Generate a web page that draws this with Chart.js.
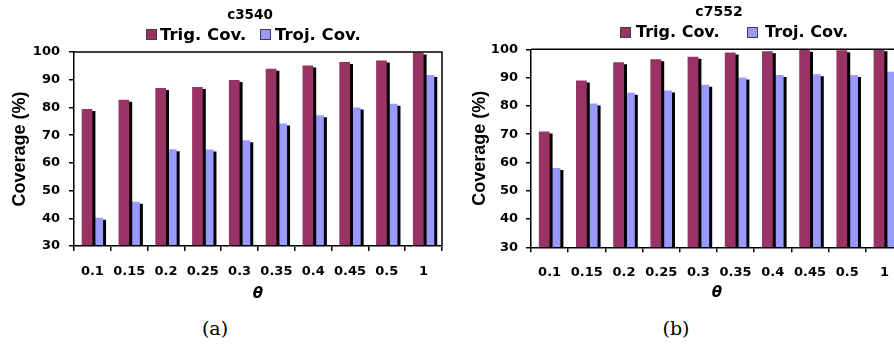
<!DOCTYPE html>
<html>
<head>
<meta charset="utf-8">
<title>Coverage vs theta</title>
<script src="https://cdn.jsdelivr.net/npm/chart.js@4.4.0/dist/chart.umd.min.js"></script>
<style>
	body { margin: 0; width: 894px; height: 344px; overflow: hidden; background: #fff; position: relative; font-family: "DejaVu Sans", sans-serif; }
	canvas { position: absolute; top: 0; }
	.t { position: absolute; font-weight: bold; line-height: 1; white-space: nowrap; color: #000; }
	.ttl { text-align: center; width: 100px; }
	.box { position: absolute; width: 9px; height: 9px; border: 1px solid #404040; }
	.cap { position: absolute; width: 100px; text-align: center; font-family: "DejaVu Serif", serif; font-size: 19px; line-height: 1; color: #000; }
</style>
</head>
<body>
<canvas id="chartA" width="447" height="303" style="left:0"></canvas>
<canvas id="chartB" width="470" height="302" style="left:447px"></canvas>

<!-- titles and legends -->
<div class="t ttl" style="left:200px;top:8px;font-size:13.5px">c3540</div>
<div class="box" style="left:146px;top:29px;background:#993366"></div>
<div class="t" style="left:160px;top:27px;font-size:16.5px">Trig. Cov.</div>
<div class="box" style="left:260px;top:29px;background:#9999ff"></div>
<div class="t" style="left:275px;top:27px;font-size:16.5px">Troj. Cov.</div>

<div class="t ttl" style="left:669px;top:4px;font-size:14px">c7552</div>
<div class="box" style="left:620px;top:27px;background:#993366"></div>
<div class="t" style="left:636px;top:24px;font-size:16px">Trig. Cov.</div>
<div class="box" style="left:747px;top:27px;background:#9999ff"></div>
<div class="t" style="left:765px;top:24px;font-size:16px">Troj. Cov.</div>

<div class="cap" style="left:165px;top:319px">(a)</div>
<div class="cap" style="left:626px;top:319px">(b)</div>

<script>
// threshold values on the x axis
var thetaLabels = ['0.1', '0.15', '0.2', '0.25', '0.3', '0.35', '0.4', '0.45', '0.5', '1'];

// c3540 coverage (%)
var trigC3540 = [79.4, 82.8, 87.0, 87.4, 89.9, 94.0, 95.1, 96.4, 96.9, 99.8];
var trojC3540 = [40.2, 46.0, 64.9, 64.8, 68.2, 74.2, 77.2, 80.0, 81.3, 91.7];

// c7552 coverage (%)
var trigC7552 = [70.9, 89.0, 95.4, 96.5, 97.4, 98.9, 99.3, 99.8, 99.7, 100];
var trojC7552 = [58.0, 80.8, 84.6, 85.4, 87.5, 90.0, 90.9, 91.2, 90.9, 92.1];

// y axis range
var yMin = 30;
var yMax = 100;
var yStep = 10;

var tickFont = { family: 'DejaVu Sans', weight: 'bold', size: 13 };

/**
 * Excel style drop shadow on the bars
 */
var barShadow = {
	id: 'barShadow',
	beforeDatasetsDraw: function(chart) {
		var ctx = chart.ctx;
		ctx.save();
		ctx.shadowColor = '#000';
		ctx.shadowOffsetX = 3;
		ctx.shadowOffsetY = 2;
		ctx.shadowBlur = 0;
	},
	afterDatasetsDraw: function(chart) {
		chart.ctx.restore();
	}
};

/**
 * Top and right edges of the plot box
 */
var plotFrame = {
	id: 'plotFrame',
	afterDraw: function(chart) {
		var ctx = chart.ctx;
		var a = chart.chartArea;
		ctx.save();
		ctx.strokeStyle = '#000';
		ctx.lineWidth = 1.5;
		ctx.beginPath();
		ctx.moveTo(a.left, a.top);
		ctx.lineTo(a.right, a.top);
		ctx.lineTo(a.right, a.bottom);
		ctx.stroke();
		ctx.restore();
	}
};

function coverageChart(canvasId, trigData, trojData, box) {
	var ctx = document.getElementById(canvasId).getContext('2d');

	return new Chart(ctx, {
		type: 'bar',
		data: {
			labels: thetaLabels,
			datasets: [{
				label: 'Trig. Cov.',
				data: trigData,
				backgroundColor: '#993366',
				borderWidth: 0,
				clip: 0
			}, {
				label: 'Troj. Cov.',
				data: trojData,
				backgroundColor: '#9999ff',
				borderWidth: 0,
				clip: 0
			}]
		},
		options: {
			responsive: false,
			animation: false,
			categoryPercentage: 0.58,
			barPercentage: 1,
			layout: {
				padding: { left: box.padLeft, right: box.padRight, top: box.top, bottom: 0 }
			},
			plugins: {
				legend: { display: false },
				title: { display: false },
				tooltip: { enabled: false }
			},
			scales: {
				x: {
					grid: { offset: true, drawOnChartArea: false, tickLength: 5, color: '#000', lineWidth: 1.5 },
					border: { color: '#000', width: 1.5, z: 1 },
					ticks: { color: '#000', font: tickFont, padding: 13, maxRotation: 0, autoSkip: false },
					title: {
						display: true,
						text: 'θ',
						color: '#000',
						font: { family: 'DejaVu Sans', weight: 'bold', style: 'italic', size: 15 },
						padding: 0
					},
					afterFit: function(scale) {
						scale.height = box.xHeight;
					}
				},
				y: {
					min: yMin,
					max: yMax,
					grid: { drawOnChartArea: false, tickLength: 5, color: '#000', lineWidth: 1.5 },
					border: { color: '#000', width: 1.5, z: 1 },
					ticks: { stepSize: yStep, color: '#000', font: tickFont, padding: box.tickPad },
					title: {
						display: true,
						text: 'Coverage (%)',
						color: '#000',
						font: { family: 'Liberation Sans', weight: 'bold', size: 18 },
						padding: 0
					},
					afterFit: function(scale) {
						scale.width = box.yWidth;
					}
				}
			}
		},
		plugins: [barShadow, plotFrame]
	});
}

coverageChart('chartA', trigC3540, trojC3540, {
	padLeft: 9.7, padRight: 5, top: 52, yWidth: 64.3, xHeight: 57, tickPad: 9
});

coverageChart('chartB', trigC7552, trojC7552, {
	padLeft: 22.7, padRight: 14, top: 49.3, yWidth: 61.3, xHeight: 54.7, tickPad: 8
});
</script>
</body>
</html>
